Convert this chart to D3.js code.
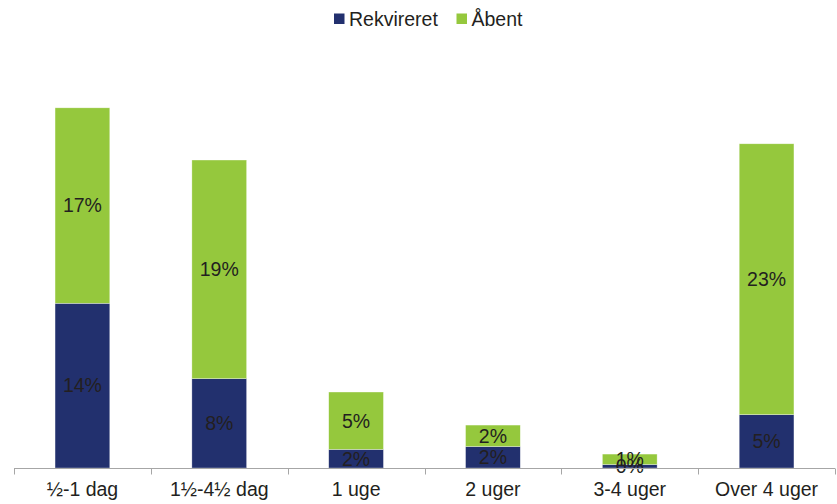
<!DOCTYPE html>
<html>
<head>
<meta charset="utf-8">
<script src="https://cdn.jsdelivr.net/npm/d3@7"></script>
<style>
  html, body { margin: 0; padding: 0; background: #fff; }
  svg { display: block; font-family: "Liberation Sans", Arial, sans-serif; }
</style>
</head>
<body>
<svg id="chart" width="837" height="504"></svg>
<script>
// Categories (response time) and the two stacked series, in percent
const categories = ["½-1 dag", "1½-4½ dag", "1 uge", "2 uger", "3-4 uger", "Over 4 uger"];
const rekvireret = [14.2, 7.7, 1.6, 1.85, 0.3, 4.6];
const aabent = [16.85, 18.85, 4.95, 1.85, 0.9, 23.35];
const seriesNames = ["Rekvireret", "Åbent"];
const seriesColors = ["#22306e", "#95c83d"];

const svg = d3.select("#chart");
const textColor = "#231f20";
const fontSize = 19.5;

const x = d3.scaleBand().domain(categories).range([14, 835]).padding(0);
const barW = x.bandwidth() * 0.4;
const y = d3.scaleLinear().domain([0, 35]).range([468, 468 - 35 * 11.6]);

const rows = categories.map((c, i) => ({ cat: c, Rekvireret: rekvireret[i], "Åbent": aabent[i] }));
const stacked = d3.stack().keys(seriesNames)(rows);

// Stacked bars
const layers = svg.append("g").selectAll("g")
  .data(stacked)
  .join("g")
  .attr("fill", (d, i) => seriesColors[i]);

layers.selectAll("rect")
  .data(d => d)
  .join("rect")
  .attr("x", d => x(d.data.cat) + (x.bandwidth() - barW) / 2)
  .attr("width", barW)
  .attr("y", d => y(d[1]))
  .attr("height", d => y(d[0]) - y(d[1]))
  .attr("stroke", "#ffffff")
  .attr("stroke-opacity", 0.55)
  .attr("stroke-width", 0.6);

// Value labels centred in each segment
const labels = svg.append("g");
stacked.forEach(layer => {
  labels.selectAll(null)
    .data(layer)
    .join("text")
    .attr("x", d => x(d.data.cat) + x.bandwidth() / 2)
    .attr("y", d => (y(d[0]) + y(d[1])) / 2)
    .attr("dy", "0.35em")
    .attr("text-anchor", "middle")
    .attr("font-size", fontSize)
    .attr("fill", textColor)
    .text(d => Math.round(d[1] - d[0]) + "%");
});

// Category axis with tick marks at band boundaries
const axisG = svg.append("g").attr("transform", "translate(0,468.5)");
axisG.append("line")
  .attr("x1", x.range()[0]).attr("x2", x.range()[1])
  .attr("y1", 0).attr("y2", 0)
  .attr("stroke", "#a6a6a6").attr("stroke-width", 1);
const boundaries = categories.map(c => x(c)).concat([x.range()[1]]);
axisG.selectAll(".tickmark")
  .data(boundaries)
  .join("line")
  .attr("class", "tickmark")
  .attr("x1", d => Math.round(d) + 0.5).attr("x2", d => Math.round(d) + 0.5)
  .attr("y1", 0).attr("y2", 6)
  .attr("stroke", "#a6a6a6").attr("stroke-width", 1);

const xAxis = d3.axisBottom(x).tickSize(0).tickPadding(0);
const labelAxis = svg.append("g").attr("transform", "translate(0,468)").call(xAxis);
labelAxis.select(".domain").remove();
labelAxis.selectAll("text")
  .attr("y", 28)
  .attr("dy", 0)
  .attr("font-size", fontSize)
  .attr("font-family", "Liberation Sans, Arial, sans-serif")
  .attr("fill", textColor);

// Legend
const legendItems = [
  { name: seriesNames[0], color: seriesColors[0], x: 334 },
  { name: seriesNames[1], color: seriesColors[1], x: 456.5 }
];
const legend = svg.append("g");
legendItems.forEach(item => {
  legend.append("rect")
    .attr("x", item.x).attr("y", 13.5)
    .attr("width", 10.5).attr("height", 10.5)
    .attr("fill", item.color);
  legend.append("text")
    .attr("x", item.x + 15).attr("y", 25.5)
    .attr("font-size", fontSize)
    .attr("fill", textColor)
    .text(item.name);
});
</script>
</body>
</html>
